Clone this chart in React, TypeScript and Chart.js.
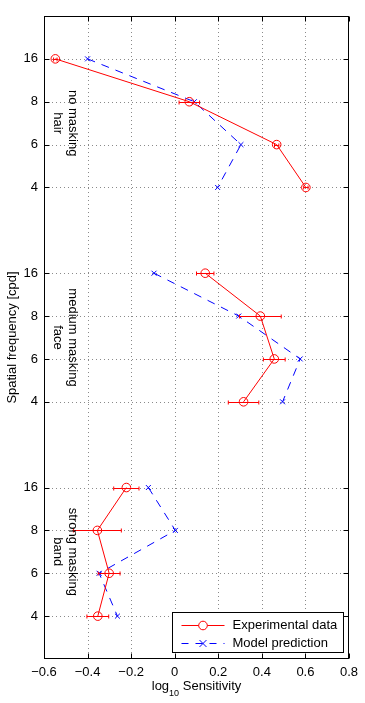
import React, { useEffect, useRef } from 'react';
import { Chart, registerables } from 'chart.js';

Chart.register(...registerables);

// ---- data ----
const xTicks = [-0.6, -0.4, -0.2, 0, 0.2, 0.4, 0.6, 0.8];
const freqLabels = ['16', '8', '6', '4'];
const hairRows = [1, 2, 3, 4];
const faceRows = [6, 7, 8, 9];
const bandRows = [11, 12, 13, 14];
const groupTitles = [
  ['no masking', 'hair'],
  ['medium masking', 'face'],
  ['strong masking', 'band'],
];

const expHair = [-0.548, 0.067, 0.468, 0.602];
const expHairErr = [0.008, 0.047, 0.01, 0.01];
const modelHair = [-0.4, 0.09, 0.304, 0.197];

const expFace = [0.14, 0.393, 0.457, 0.316];
const expFaceErr = [0.04, 0.096, 0.05, 0.07];
const modelFace = [-0.095, 0.294, 0.576, 0.495];

const expBand = [-0.222, -0.355, -0.301, -0.353];
const expBandErr = [0.058, 0.11, 0.05, 0.05];
const modelBand = [-0.121, 0.003, -0.347, -0.263];

const legendLabels = ['Experimental data', 'Model prediction'];
const xTitleMain = 'log';
const xTitleSub = '10';
const xTitleRest = ' Sensitivity';
const yTitle = 'Spatial frequency [cpd]';

const RED = '#ff0000';
const BLUE = '#0000ff';
const FONT = '"Liberation Sans", Arial, Helvetica, sans-serif';

const yTicks = [...hairRows, ...faceRows, ...bandRows];
const groupRows = [hairRows, faceRows, bandRows];

const pts = (xs: number[], rows: number[]) => xs.map((v, i) => ({ x: v, y: rows[i] }));
const fmtX = (v: number) => {
  if (Math.abs(v) < 1e-9) return '0';
  const s = Math.abs(v).toFixed(1);
  return v < 0 ? '\u2212' + s : s;
};

const expStyle = {
  borderColor: RED,
  backgroundColor: 'rgba(0,0,0,0)',
  borderWidth: 1,
  pointStyle: 'circle',
  pointRadius: 4.3,
  pointBorderColor: RED,
  pointBackgroundColor: 'rgba(0,0,0,0)',
  pointBorderWidth: 1,
  showLine: true,
  tension: 0,
};
const modelStyle = {
  borderColor: BLUE,
  backgroundColor: 'rgba(0,0,0,0)',
  borderWidth: 1,
  borderDash: [8, 7],
  pointStyle: 'crossRot',
  pointRadius: 3.5,
  pointBorderColor: BLUE,
  pointBorderWidth: 1,
  showLine: true,
  tension: 0,
};

const decorPlugin = {
  id: 'decor',
  beforeDatasetsDraw(chart: any) {
    const { ctx, chartArea: a, scales } = chart;
    const xs = scales.x, ys = scales.y;
    ctx.save();
    ctx.strokeStyle = '#8a8a8a';
    ctx.lineWidth = 1;
    ctx.setLineDash([1, 3]);
    xTicks.slice(1, -1).forEach((v) => {
      const px = Math.round(xs.getPixelForValue(v)) + 0.5;
      ctx.beginPath();
      ctx.moveTo(px, a.top);
      ctx.lineTo(px, a.bottom);
      ctx.stroke();
    });
    yTicks.forEach((v) => {
      const py = Math.round(ys.getPixelForValue(v)) + 0.5;
      ctx.beginPath();
      ctx.moveTo(a.left, py);
      ctx.lineTo(a.right, py);
      ctx.stroke();
    });
    ctx.restore();
  },
  afterDatasetsDraw(chart: any) {
    const { ctx, chartArea: a, scales } = chart;
    const xs = scales.x, ys = scales.y;
    ctx.save();
    // error bars
    chart.data.datasets.forEach((ds: any) => {
      if (!ds.errors) return;
      ctx.strokeStyle = RED;
      ctx.lineWidth = 1;
      ctx.setLineDash([]);
      ds.data.forEach((p: any, i: number) => {
        const e = ds.errors[i];
        const xl = xs.getPixelForValue(p.x - e);
        const xr = xs.getPixelForValue(p.x + e);
        const py = Math.round(ys.getPixelForValue(p.y)) + 0.5;
        ctx.beginPath();
        ctx.moveTo(xl, py);
        ctx.lineTo(xr, py);
        ctx.moveTo(xl, py - 2);
        ctx.lineTo(xl, py + 2);
        ctx.moveTo(xr, py - 2);
        ctx.lineTo(xr, py + 2);
        ctx.stroke();
      });
    });
    // frame
    ctx.strokeStyle = '#000';
    ctx.lineWidth = 1;
    ctx.setLineDash([]);
    const L = Math.round(a.left) + 0.5, R = Math.round(a.right) - 0.5;
    const T = Math.round(a.top) + 0.5, B = Math.round(a.bottom) - 0.5;
    ctx.strokeRect(L, T, R - L, B - T);
    // inner ticks
    ctx.beginPath();
    xTicks.forEach((v) => {
      const px = Math.round(xs.getPixelForValue(v)) + 0.5;
      ctx.moveTo(px, B);
      ctx.lineTo(px, B - 5);
      ctx.moveTo(px, T);
      ctx.lineTo(px, T + 5);
    });
    yTicks.forEach((v) => {
      const py = Math.round(ys.getPixelForValue(v)) + 0.5;
      ctx.moveTo(L, py);
      ctx.lineTo(L + 5, py);
      ctx.moveTo(R, py);
      ctx.lineTo(R - 5, py);
    });
    ctx.stroke();

    // group annotations (rotated clockwise)
    ctx.fillStyle = '#000';
    ctx.font = `13px ${FONT}`;
    ctx.textAlign = 'center';
    ctx.textBaseline = 'middle';
    groupTitles.forEach((lines, g) => {
      const rows = groupRows[g];
      const cy = ys.getPixelForValue((rows[0] + rows[rows.length - 1]) / 2);
      const cx = a.left + 21;
      ctx.save();
      ctx.translate(cx, cy);
      ctx.rotate(Math.PI / 2);
      ctx.fillText(lines[0], 0, -7.5);
      ctx.fillText(lines[1], 0, 7.5);
      ctx.restore();
    });

    // legend
    const bw = 171, bh = 40;
    const bx = Math.round(a.right - 6 - bw) + 0.5;
    const by = Math.round(a.bottom - 7 - bh) + 0.5;
    ctx.fillStyle = '#fff';
    ctx.fillRect(bx, by, bw, bh);
    ctx.strokeStyle = '#000';
    ctx.strokeRect(bx, by, bw, bh);
    const lx0 = bx + 9, lx1 = bx + 52, lmx = (lx0 + lx1) / 2;
    const r1 = Math.round(by + 12) + 0.5, r2 = Math.round(by + 30) + 0.5;
    // row 1
    ctx.strokeStyle = RED;
    ctx.beginPath();
    ctx.moveTo(lx0, r1);
    ctx.lineTo(lx1, r1);
    ctx.stroke();
    ctx.fillStyle = '#fff';
    ctx.beginPath();
    ctx.arc(lmx, r1, 4.3, 0, Math.PI * 2);
    ctx.fill();
    ctx.stroke();
    // row 2
    ctx.strokeStyle = BLUE;
    ctx.setLineDash([7, 7]);
    ctx.beginPath();
    ctx.moveTo(lx0, r2);
    ctx.lineTo(lx1, r2);
    ctx.stroke();
    ctx.setLineDash([]);
    const c = 3.5 * Math.SQRT1_2 * 1.4;
    ctx.beginPath();
    ctx.moveTo(lmx - c, r2 - c);
    ctx.lineTo(lmx + c, r2 + c);
    ctx.moveTo(lmx - c, r2 + c);
    ctx.lineTo(lmx + c, r2 - c);
    ctx.stroke();
    ctx.fillStyle = '#000';
    ctx.textAlign = 'left';
    ctx.fillText(legendLabels[0], bx + 60, r1);
    ctx.fillText(legendLabels[1], bx + 60, r2);

    // x title
    ctx.textBaseline = 'alphabetic';
    ctx.font = `13px ${FONT}`;
    const w1 = ctx.measureText(xTitleMain).width;
    const w3 = ctx.measureText(xTitleRest).width;
    ctx.font = `9px ${FONT}`;
    const w2 = ctx.measureText(xTitleSub).width;
    const total = w1 + w2 + w3;
    let tx = (a.left + a.right) / 2 - total / 2;
    ctx.font = `13px ${FONT}`;
    ctx.fillText(xTitleMain, tx, 690);
    tx += w1;
    ctx.font = `9px ${FONT}`;
    ctx.fillText(xTitleSub, tx, 696);
    tx += w2;
    ctx.font = `13px ${FONT}`;
    ctx.fillText(xTitleRest, tx, 690);

    // y title
    ctx.save();
    ctx.translate(12, (a.top + a.bottom) / 2);
    ctx.rotate(-Math.PI / 2);
    ctx.textAlign = 'center';
    ctx.textBaseline = 'middle';
    ctx.fillText(yTitle, 0, 0);
    ctx.restore();

    ctx.restore();
  },
};

export default function App() {
  const ref = useRef<HTMLCanvasElement | null>(null);
  useEffect(() => {
    document.body.style.margin = '0';
    const canvas = ref.current!;
    const chart = new Chart(canvas, {
      type: 'scatter',
      data: {
        datasets: [
          { ...expStyle, data: pts(expHair, hairRows), errors: expHairErr } as any,
          { ...modelStyle, data: pts(modelHair, hairRows) } as any,
          { ...expStyle, data: pts(expFace, faceRows), errors: expFaceErr } as any,
          { ...modelStyle, data: pts(modelFace, faceRows) } as any,
          { ...expStyle, data: pts(expBand, bandRows), errors: expBandErr } as any,
          { ...modelStyle, data: pts(modelBand, bandRows) } as any,
        ],
      },
      options: {
        responsive: false,
        animation: false,
        layout: { padding: { left: 0, right: 16, top: 16, bottom: 0 } },
        plugins: { legend: { display: false }, tooltip: { enabled: false } },
        scales: {
          x: {
            type: 'linear',
            min: -0.6,
            max: 0.8,
            afterBuildTicks: (s: any) => {
              s.ticks = xTicks.map((v) => ({ value: v }));
            },
            afterFit: (s: any) => {
              s.height = 44;
            },
            grid: { display: false, drawTicks: false },
            border: { display: false },
            ticks: {
              autoSkip: false,
              maxRotation: 0,
              padding: 6,
              color: '#000',
              font: { family: FONT, size: 13 },
              callback: (v: any) => fmtX(Number(v)),
            },
          },
          y: {
            type: 'linear',
            min: 0,
            max: 15,
            reverse: true,
            afterBuildTicks: (s: any) => {
              s.ticks = yTicks.map((v) => ({ value: v }));
            },
            afterFit: (s: any) => {
              s.width = 44;
            },
            grid: { display: false, drawTicks: false },
            border: { display: false },
            ticks: {
              autoSkip: false,
              padding: 6,
              color: '#000',
              font: { family: FONT, size: 13 },
              callback: (v: any) => {
                const idx = yTicks.indexOf(Number(v));
                return idx >= 0 ? freqLabels[idx % freqLabels.length] : '';
              },
            },
          },
        },
      } as any,
      plugins: [decorPlugin],
    });
    return () => chart.destroy();
  }, []);
  return (
    <div style={{ width: 365, height: 703, background: '#fff' }}>
      <canvas ref={ref} width={365} height={703} style={{ display: 'block', width: 365, height: 703 }} />
    </div>
  );
}
